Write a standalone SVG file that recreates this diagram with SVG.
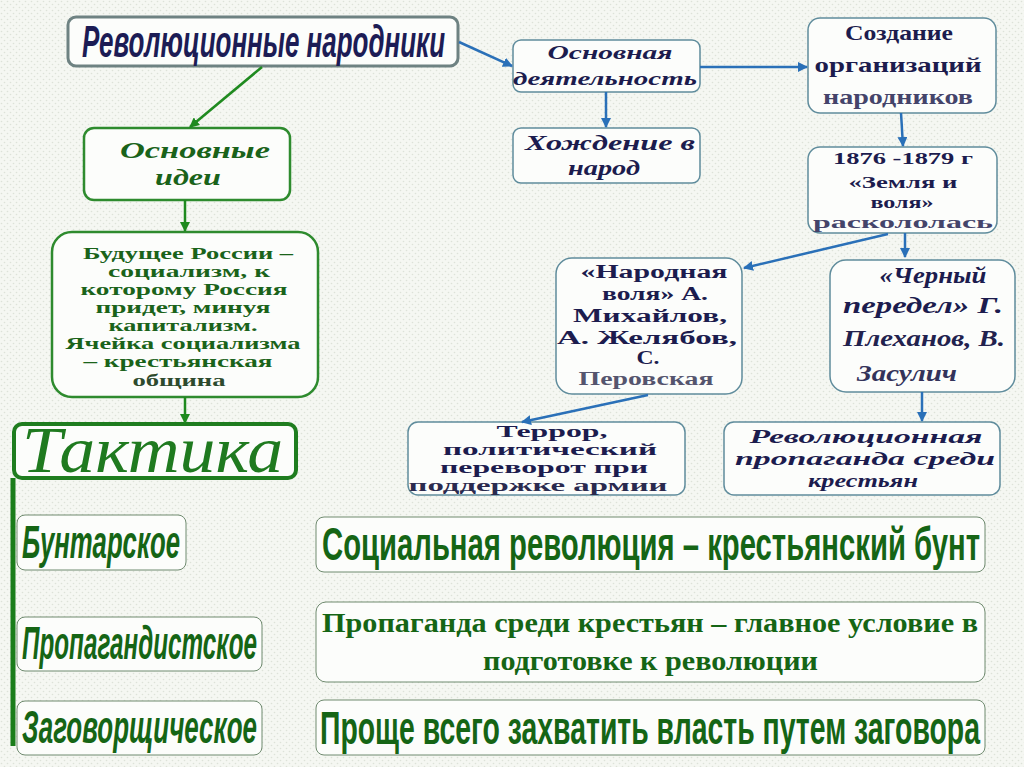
<svg xmlns="http://www.w3.org/2000/svg" width="1024" height="767" viewBox="0 0 1024 767">
<defs>
<pattern id="dots" width="6" height="6" patternUnits="userSpaceOnUse">
<rect width="6" height="6" fill="#f5f7f2"/>
<circle cx="1.5" cy="1.5" r="0.8" fill="#dde2d8"/>
<circle cx="4.5" cy="4.5" r="0.8" fill="#dde2d8"/>
</pattern>
<marker id="ab" viewBox="0 0 10 10" refX="9" refY="5" markerWidth="4" markerHeight="4" orient="auto">
<path d="M0,0 L10,5 L0,10 z" fill="#2a70b8"/>
</marker>
<marker id="ag" viewBox="0 0 10 10" refX="9" refY="5" markerWidth="4" markerHeight="4" orient="auto">
<path d="M0,0 L10,5 L0,10 z" fill="#1f8a1f"/>
</marker>
</defs>
<style>
.bx{fill:#fcfdfb;stroke:#5f8c9c;stroke-width:1.5}
.gbx{fill:#fcfdfb;stroke:#2e8b2e;stroke-width:2.5}
.sbx{fill:#fcfdfb;stroke:#6f8a6f;stroke-width:1}
.nv{font-family:"Liberation Serif",serif;font-weight:bold;fill:#1c1c4e;text-anchor:middle}
.it{font-style:italic}
.gr{font-family:"Liberation Serif",serif;font-weight:bold;fill:#1a631a;text-anchor:middle}
.cond{font-family:"Liberation Sans",sans-serif;font-weight:bold;fill:#156515}
.bl{fill:none;stroke:#2a70b8;stroke-width:2.5;marker-end:url(#ab)}
.gl{fill:none;stroke:#1f8a1f;stroke-width:2.5;marker-end:url(#ag)}
</style>
<rect width="1024" height="767" fill="url(#dots)"/>

<g id="head">
<rect x="68" y="17" width="390" height="49" rx="8" fill="#fcfdfb" stroke="#6e8282" stroke-width="3"/>
<text x="82" y="57" font-family="Liberation Sans, sans-serif" font-weight="bold" font-style="italic" font-size="45" fill="#1c1c55" textLength="363" lengthAdjust="spacingAndGlyphs">Революционные народники</text>
</g>

<g id="osn-deyat">
<rect class="bx" x="513" y="40" width="187" height="52" rx="8"/>
<text class="nv it" x="610" y="59" font-size="19" textLength="125" lengthAdjust="spacingAndGlyphs">Основная</text>
<text class="nv it" x="605" y="85" font-size="19" textLength="184" lengthAdjust="spacingAndGlyphs">деятельность</text>
</g>

<g id="khozhdenie">
<rect class="bx" x="513" y="128" width="187" height="55" rx="8"/>
<text class="nv it" x="610" y="150" font-size="22" textLength="170" lengthAdjust="spacingAndGlyphs">Хождение в</text>
<text class="nv it" x="604" y="175" font-size="22" fill="#26265a" textLength="72" lengthAdjust="spacingAndGlyphs">народ</text>
</g>

<g id="sozdanie">
<rect class="bx" x="808" y="18" width="188" height="95" rx="12"/>
<text class="nv" x="899" y="40" font-size="22" textLength="108" lengthAdjust="spacingAndGlyphs">Создание</text>
<text class="nv" x="898" y="72" font-size="22" textLength="167" lengthAdjust="spacingAndGlyphs">организаций</text>
<text class="nv" x="898" y="104" font-size="22" style="fill:#44446a" textLength="150" lengthAdjust="spacingAndGlyphs">народников</text>
</g>

<g id="zemlya">
<rect class="bx" x="808" y="147" width="189" height="86" rx="12"/>
<text class="nv" x="903" y="164" font-size="17" textLength="140" lengthAdjust="spacingAndGlyphs">1876 -1879 г</text>
<text class="nv" x="903" y="188" font-size="17" textLength="109" lengthAdjust="spacingAndGlyphs">«Земля и</text>
<text class="nv" x="902" y="208" font-size="17" textLength="63" lengthAdjust="spacingAndGlyphs">воля»</text>
<text class="nv" x="903" y="228" font-size="17" style="fill:#44446a" textLength="180" lengthAdjust="spacingAndGlyphs">раскололась</text>
</g>

<g id="narodnaya">
<rect class="bx" x="556" y="258" width="186" height="136" rx="16"/>
<text class="nv" x="654" y="278" font-size="18" textLength="147" lengthAdjust="spacingAndGlyphs">«Народная</text>
<text class="nv" x="655" y="300" font-size="18" textLength="106" lengthAdjust="spacingAndGlyphs">воля» А.</text>
<text class="nv" x="650" y="322" font-size="18" textLength="154" lengthAdjust="spacingAndGlyphs">Михайлов,</text>
<text class="nv" x="647" y="344" font-size="18" textLength="180" lengthAdjust="spacingAndGlyphs">А. Желябов,</text>
<text class="nv" x="648" y="364" font-size="18" textLength="23" lengthAdjust="spacingAndGlyphs">С.</text>
<text class="nv" x="646" y="385" font-size="18" style="fill:#55556e" textLength="135" lengthAdjust="spacingAndGlyphs">Перовская</text>
</g>

<g id="cherny">
<rect class="bx" x="830" y="260" width="185" height="132" rx="16"/>
<text class="nv it" x="933" y="283" font-size="24" textLength="107" lengthAdjust="spacingAndGlyphs">«Черный</text>
<text class="nv it" x="923" y="313" font-size="24" textLength="160" lengthAdjust="spacingAndGlyphs">передел» Г.</text>
<text class="nv it" x="924" y="346" font-size="24" style="fill:#22224e" textLength="162" lengthAdjust="spacingAndGlyphs">Плеханов, В.</text>
<text class="nv it" x="907" y="381" font-size="24" style="fill:#33335a" textLength="100" lengthAdjust="spacingAndGlyphs">Засулич</text>
</g>

<g id="terror">
<rect class="bx" x="408" y="422" width="277" height="73" rx="10"/>
<text class="nv" x="552" y="437" font-size="17" textLength="111" lengthAdjust="spacingAndGlyphs">Террор,</text>
<text class="nv" x="550" y="455" font-size="17" textLength="214" lengthAdjust="spacingAndGlyphs">политический</text>
<text class="nv" x="544" y="473" font-size="17" textLength="208" lengthAdjust="spacingAndGlyphs">переворот при</text>
<text class="nv" x="538" y="491" font-size="17" style="fill:#2a2a4e" textLength="259" lengthAdjust="spacingAndGlyphs">поддержке  армии</text>
</g>

<g id="rev-prop">
<rect class="bx" x="724" y="422" width="276" height="73" rx="10"/>
<text class="nv it" x="866" y="443" font-size="19" textLength="233" lengthAdjust="spacingAndGlyphs">Революционная</text>
<text class="nv it" x="865" y="465" font-size="19" textLength="260" lengthAdjust="spacingAndGlyphs">пропаганда среди</text>
<text class="nv it" x="863" y="487" font-size="19" textLength="110" lengthAdjust="spacingAndGlyphs">крестьян</text>
</g>

<g id="osn-idei">
<rect class="gbx" x="84" y="128" width="206" height="72" rx="10"/>
<text class="gr it" x="195" y="158" font-size="23" textLength="150" lengthAdjust="spacingAndGlyphs">Основные</text>
<text class="gr it" x="188" y="185" font-size="23" textLength="66" lengthAdjust="spacingAndGlyphs">идеи</text>
</g>

<g id="budushchee">
<rect class="gbx" x="52" y="232" width="266" height="165" rx="20"/>
<text class="gr" x="188" y="259" font-size="17" textLength="210" lengthAdjust="spacingAndGlyphs">Будущее России –</text>
<text class="gr" x="189" y="277" font-size="17" textLength="162" lengthAdjust="spacingAndGlyphs">социализм,  к</text>
<text class="gr" x="184" y="295" font-size="17" textLength="207" lengthAdjust="spacingAndGlyphs">которому Россия</text>
<text class="gr" x="183" y="313" font-size="17" textLength="175" lengthAdjust="spacingAndGlyphs">придет, минуя</text>
<text class="gr" x="183" y="331" font-size="17" textLength="149" lengthAdjust="spacingAndGlyphs">капитализм.</text>
<text class="gr" x="183" y="349" font-size="17" textLength="235" lengthAdjust="spacingAndGlyphs">Ячейка социализма</text>
<text class="gr" x="178" y="367" font-size="17" textLength="189" lengthAdjust="spacingAndGlyphs">– крестьянская</text>
<text class="gr" x="179" y="386" font-size="17" style="fill:#2d4a2d" textLength="93" lengthAdjust="spacingAndGlyphs">община</text>
</g>

<g id="taktika">
<rect x="14" y="424" width="282" height="54" rx="8" fill="#fcfdfb" stroke="#1f7d1f" stroke-width="4"/>
<text x="22" y="472" font-family="Liberation Serif, serif" font-style="italic" font-size="66" fill="#1f7a1f" textLength="261" lengthAdjust="spacingAndGlyphs">Тактика</text>
</g>

<g id="buntarskoe">
<rect class="sbx" x="17" y="515" width="169" height="55" rx="8"/>
<text class="cond" x="22" y="558" font-size="46" font-style="italic" textLength="158" lengthAdjust="spacingAndGlyphs">Бунтарское</text>
</g>

<g id="propagandistskoe">
<rect class="sbx" x="17" y="617" width="245" height="54" rx="8"/>
<text class="cond" x="22" y="659" font-size="46" font-style="italic" textLength="235" lengthAdjust="spacingAndGlyphs">Пропагандистское</text>
</g>

<g id="zagovorshch">
<rect class="sbx" x="17" y="701" width="245" height="54" rx="8"/>
<text class="cond" x="22" y="743" font-size="46" font-style="italic" textLength="235" lengthAdjust="spacingAndGlyphs">Заговорщическое</text>
</g>

<g id="socrev">
<rect class="sbx" x="316" y="517" width="669" height="55" rx="8"/>
<text class="cond" x="322" y="560" font-size="47" textLength="658" lengthAdjust="spacingAndGlyphs">Социальная революция – крестьянский бунт</text>
</g>

<g id="propaganda">
<rect class="sbx" x="316" y="602" width="669" height="80" rx="10"/>
<text x="322" y="632" font-family="Liberation Serif, serif" font-weight="bold" font-size="28" fill="#156515" textLength="656" lengthAdjust="spacingAndGlyphs">Пропаганда среди крестьян – главное условие в</text>
<text x="483" y="670" font-family="Liberation Serif, serif" font-weight="bold" font-size="28" fill="#156515" textLength="335" lengthAdjust="spacingAndGlyphs">подготовке к революции</text>
</g>

<g id="zagovor">
<rect class="sbx" x="316" y="700" width="669" height="55" rx="8"/>
<text class="cond" x="320" y="744" font-size="47" textLength="660" lengthAdjust="spacingAndGlyphs">Проще всего захватить власть путем заговора</text>
</g>

<g id="connectors">
<line class="gl" x1="262" y1="67" x2="190" y2="127"/>
<line class="gl" x1="185" y1="200" x2="185" y2="231"/>
<line class="gl" x1="185" y1="397" x2="185" y2="423"/>
<line x1="13" y1="478" x2="13" y2="746" stroke="#1a7d1a" stroke-width="5"/>
<line class="bl" x1="459" y1="42" x2="512" y2="66"/>
<line class="bl" x1="700" y1="67" x2="807" y2="67"/>
<line class="bl" x1="606" y1="92" x2="606" y2="127"/>
<line class="bl" x1="901" y1="113" x2="903" y2="146"/>
<line class="bl" x1="888" y1="234" x2="744" y2="268"/>
<line class="bl" x1="905" y1="233" x2="905" y2="257"/>
<line class="bl" x1="648" y1="395" x2="522" y2="422"/>
<line class="bl" x1="922" y1="392" x2="922" y2="421"/>
</g>
</svg>
